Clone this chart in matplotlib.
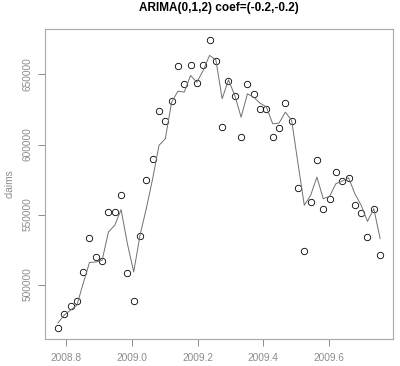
import numpy as np
import matplotlib
matplotlib.use('Agg')
import matplotlib.pyplot as plt

# weekly series, starting in week 41 of 2008
start = 2008.775
claims = [469300, 478800, 484700, 487900, 509000, 533000, 520000, 516800,
          551600, 551600, 563900, 508000, 487900, 534800, 574500, 589900,
          624000, 616800, 630900, 655800, 643000, 657100, 644100, 657100,
          674300, 659800, 612700, 645200, 634800, 605100, 642900, 636200,
          625000, 625000, 605100, 612000, 629800, 616800, 569000, 524000,
          559200, 588900, 554200, 561000, 580100, 573700, 576000, 556800,
          551100, 534200, 554200, 521100]
fitted = [472600, 478100, 481700, 485200, 500700, 515700, 516100, 517300,
          537500, 542300, 553500, 529200, 509000, 535200, 554400, 575600,
          599400, 604100, 630200, 638100, 637400, 649300, 644500, 652900,
          663600, 660500, 632700, 646200, 635000, 619500, 636200, 633800,
          629500, 626800, 614800, 615300, 623100, 617200, 586500, 556600,
          563700, 576700, 561300, 563000, 572000, 573900, 576300, 564900,
          556600, 545100, 554200, 532800]
xticks = [2008.8, 2009.0, 2009.2, 2009.4, 2009.6]
yticks = [500000, 550000, 600000, 650000]

t = start + np.arange(len(claims)) / 52.0

plt.rcParams['font.family'] = ['Liberation Sans', 'DejaVu Sans']
grey = '#8c8c8c'

fig = plt.figure(figsize=(4.0, 3.66), dpi=100)
ax = fig.add_axes([0.1125, 0.0738, 0.87, 0.847])

ax.plot(t, claims, 'o', mfc='none', mec='black', ms=4.6, mew=0.6)
ax.plot(t, fitted, '-', color='#707070', lw=0.7)
ax.margins(0.04)

ax.set_xticks(xticks)
ax.set_xticklabels(['%.1f' % x for x in xticks])
ax.set_yticks(yticks)
ax.set_yticklabels([str(y) for y in yticks], rotation=90, va='center')
ax.tick_params(direction='out', length=5, width=0.7, colors=grey,
               labelcolor=grey, labelsize=7.3, pad=5)
ax.tick_params(axis='y', pad=4)
for s in ax.spines.values():
    s.set_color('#a8a8a8')
    s.set_linewidth(0.8)

ax.set_ylabel('claims', color=grey, fontsize=7.3, labelpad=6)
ax.set_title('ARIMA(0,1,2) coef=(-0.2,-0.2)', fontsize=8.5, fontweight='bold', pad=13)

fig.savefig('out.png', dpi=100)
plt.close()
